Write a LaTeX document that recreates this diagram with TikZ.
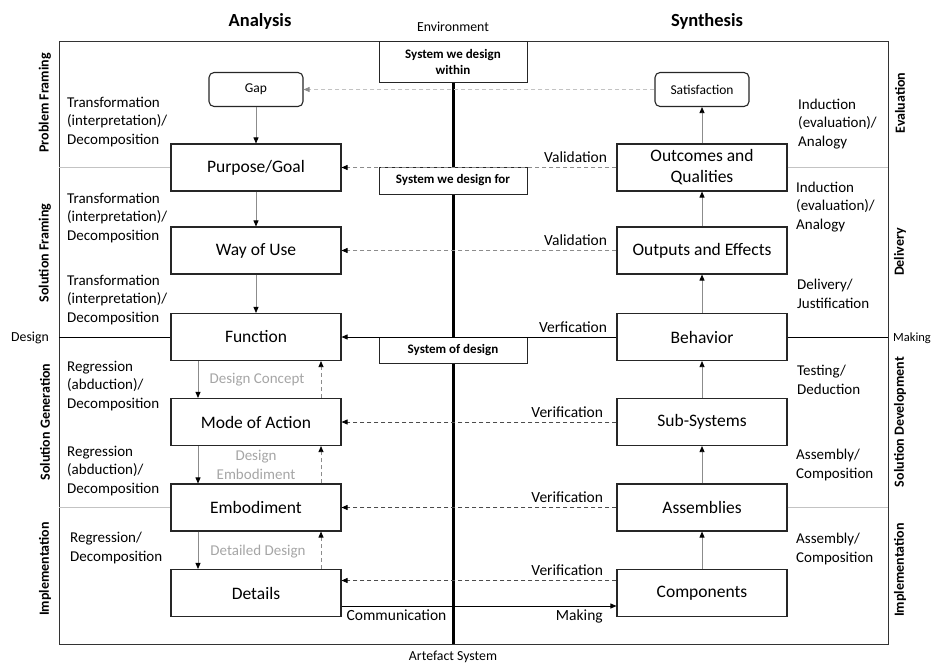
\documentclass[tikz,border=0pt]{standalone}
\usepackage{fontspec}
\setmainfont{Carlito}
\usepackage{xcolor}
\usetikzlibrary{arrows.meta}
\definecolor{linegray}{RGB}{140,140,140}
\definecolor{palegray}{RGB}{195,195,195}
\definecolor{labelgray}{RGB}{165,165,165}
\newcommand{\fs}[2]{\fontsize{#1}{#2}\selectfont}

\begin{document}
\begin{tikzpicture}[x=1pt,y=-1pt]
  \def\lx{256}
  \def\rx{702}
  \tikzset{block/.style={draw=black!85,line width=1.1pt,fill=white,minimum width=170pt,minimum height=47pt,inner sep=2pt,align=center,font=\fs{17.5}{21}}}
  \tikzset{endbox/.style={draw=black!85,line width=1.1pt,fill=white,rounded corners=5pt,minimum width=94pt,minimum height=34pt,font=\fs{13.5}{15}}}
  \tikzset{sysbox/.style={draw=black!85,line width=1pt,fill=white,minimum width=148pt,inner sep=1pt,align=center,font=\bfseries\fs{13}{16}}}
  \tikzset{proc/.style={align=left,anchor=west,inner sep=0pt,font=\fs{15}{18.5}}}
  \tikzset{phase/.style={rotate=90,inner sep=0pt,font=\bfseries\fs{14}{16}}}
  \tikzset{side/.style={inner sep=0pt,font=\fs{13.8}{16}}}
  \tikzset{hint/.style={text=labelgray,align=center,inner sep=0pt,font=\fs{15}{18.5}}}
  \tikzset{flow/.style={draw=linegray,line width=0.8pt,-{Triangle[length=6pt,width=5pt,color=black]}}}
  \tikzset{feedback/.style={flow,dash pattern=on 4pt off 3pt}}
  \tikzset{faint/.style={draw=palegray,line width=0.8pt,dash pattern=on 4pt off 3pt,-{Triangle[length=6pt,width=5pt,color=linegray]}}}
  \tikzset{check/.style={draw=black!70,line width=0.8pt,dash pattern=on 4pt off 3pt,-{Triangle[length=6pt,width=5pt,color=black]}}}
  \tikzset{solid flow/.style={draw=black,line width=0.8pt,-{Triangle[length=6pt,width=5pt]}}}
  \tikzset{divider/.style={draw=palegray,line width=0.8pt}}
  \tikzset{tag/.style={inner sep=0pt,font=\fs{15.5}{18.5}}}
  \useasboundingbox (0,0) rectangle (934,664);
  \coordinate (nw) at (59,41);
  \coordinate (se) at (888,644);
  \draw[black!80,line width=0.8pt] (nw) rectangle (se);
  \node[font=\bfseries\fs{18.5}{20}] (analysis) at (260,21) {Analysis};
  \node[font=\bfseries\fs{18.5}{20}] (synthesis) at (707,21) {Synthesis};
  \node[side] (env) at (453,27) {Environment};
  \node[side] (artefact) at (453,657) {Artefact System};
  \node[sysbox,minimum height=41pt] (within) at (453,61.5) {System we design\\within};
  \draw[line width=3pt] (within.south) -- (within.south |- se);
  \node[sysbox,minimum height=27pt] (sysfor) at (453,180.5) {System we design for};
  \node[sysbox,minimum height=26pt] (sysof) at (453,350) {System of design};
  \node[endbox] (gap) at (\lx,89.5) {Gap};
  \node[block] (purpose) at (\lx,167.5) {Purpose/Goal};
  \node[block] (wayofuse) at (\lx,250.5) {Way of Use};
  \node[block] (function) at (\lx,337) {Function};
  \node[block] (mode) at (\lx,422) {Mode of Action};
  \node[block] (embodiment) at (\lx,507.5) {Embodiment};
  \node[block] (details) at (\lx,593) {Details};
  \node[endbox] (satisfaction) at (\rx,89.5) {Satisfaction};
  \node[block] (outcomes) at (\rx,167.5) {Outcomes and\\Qualities};
  \node[block] (outputs) at (\rx,250.5) {Outputs and Effects};
  \node[block] (behavior) at (\rx,337) {Behavior};
  \node[block] (subsys) at (\rx,422) {Sub-Systems};
  \node[block] (assemblies) at (\rx,507.5) {Assemblies};
  \node[block] (components) at (\rx,593) {Components};
  \draw[divider] (nw |- purpose.west) -- (purpose.west);
  \draw[divider] (outcomes.east) -- (se |- outcomes.east);
  \draw[black,line width=0.8pt] (nw |- function.west) -- (function.west);
  \draw[black,line width=0.8pt] (behavior.east) -- (se |- behavior.east);
  \draw[divider] (nw |- embodiment.west) -- (embodiment.west);
  \draw[divider] (assemblies.east) -- (se |- assemblies.east);
  \node[phase] (pf) at (45,103) {Problem Framing};
  \node[phase] (sf) at (45,253) {Solution Framing};
  \node[phase] (sg) at (45,422) {Solution Generation};
  \node[phase] (imL) at (45,569) {Implementation};
  \node[phase] (ev) at (900,103) {Evaluation};
  \node[phase] (de) at (900,252) {Delivery};
  \node[phase] (sd) at (900,422) {Solution Development};
  \node[phase] (imR) at (900,570) {Implementation};
  \node[side] (design) at (30,338) {Design};
  \node[side,anchor=west,font=\fs{12.5}{15}] (making) at (893,338) {Making};
  \node[proc] (t1) at (67,122) {Transformation\\(interpretation)/\\Decomposition};
  \node[proc] (t2) at (67,218) {Transformation\\(interpretation)/\\Decomposition};
  \node[proc] (t3) at (67,300) {Transformation\\(interpretation)/\\Decomposition};
  \node[proc] (r1) at (67,386) {Regression\\(abduction)/\\Decomposition};
  \node[proc] (r2) at (67,471) {Regression\\(abduction)/\\Decomposition};
  \node[proc] (r3) at (70,548) {Regression/\\Decomposition};
  \node[proc] (i1) at (798,124) {Induction\\(evaluation)/\\Analogy};
  \node[proc] (i2) at (796,207) {Induction\\(evaluation)/\\Analogy};
  \node[proc] (dj) at (797,294) {Delivery/\\Justification};
  \node[proc] (td) at (797,380) {Testing/\\Deduction};
  \node[proc] (ac1) at (796,465) {Assembly/\\Composition};
  \node[proc] (ac2) at (796,549) {Assembly/\\Composition};
  \node[hint] (concept) at (257,380) {Design Concept};
  \node[hint] (embhint) at (256,465) {Design\\Embodiment};
  \node[hint] (detailed) at (258,552) {Detailed Design};
  \foreach \a/\b in {gap/purpose,purpose/wayofuse,wayofuse/function}
    \draw[flow] (\a) -- (\b);
  \foreach \a/\b in {function/mode,mode/embodiment,embodiment/details}
    \draw[flow] ([xshift=-58pt]\a.south) -- ([xshift=-58pt]\b.north);
  \foreach \a/\b in {mode/function,embodiment/mode,details/embodiment}
    \draw[feedback] ([xshift=65pt]\a.north) -- ([xshift=65pt]\b.south);
  \foreach \a/\b in {components/assemblies,assemblies/subsys,subsys/behavior,behavior/outputs,outputs/outcomes,outcomes/satisfaction}
    \draw[flow] (\a) -- (\b);
  \draw[faint] (satisfaction) -- (gap);
  \draw[feedback] (outcomes.west) -- node[tag,pos=0,anchor=south east,xshift=-9pt,yshift=4pt]{Validation} (purpose.east);
  \draw[feedback] (outputs.west) -- node[tag,pos=0,anchor=south east,xshift=-9pt,yshift=4pt]{Validation} (wayofuse.east);
  \draw[solid flow] (behavior.west) -- node[tag,pos=0,anchor=south east,xshift=-9pt,yshift=4pt]{Verfication} (function.east);
  \draw[check] (subsys.west) -- node[tag,pos=0,anchor=south east,xshift=-13pt,yshift=4pt]{Verification} (mode.east);
  \draw[check] (assemblies.west) -- node[tag,pos=0,anchor=south east,xshift=-13pt,yshift=4pt]{Verification} (embodiment.east);
  \draw[check] ([yshift=12.5pt]components.west) -- node[tag,pos=0,anchor=south east,xshift=-13pt,yshift=4pt]{Verification} ([yshift=12.5pt]details.east);
  \draw[solid flow] ([yshift=-13pt]details.east) -- node[tag,pos=0.2,below=3pt]{Communication} node[tag,pos=0.865,below=3pt]{Making} ([yshift=-13pt]components.west);
\end{tikzpicture}
\end{document}
